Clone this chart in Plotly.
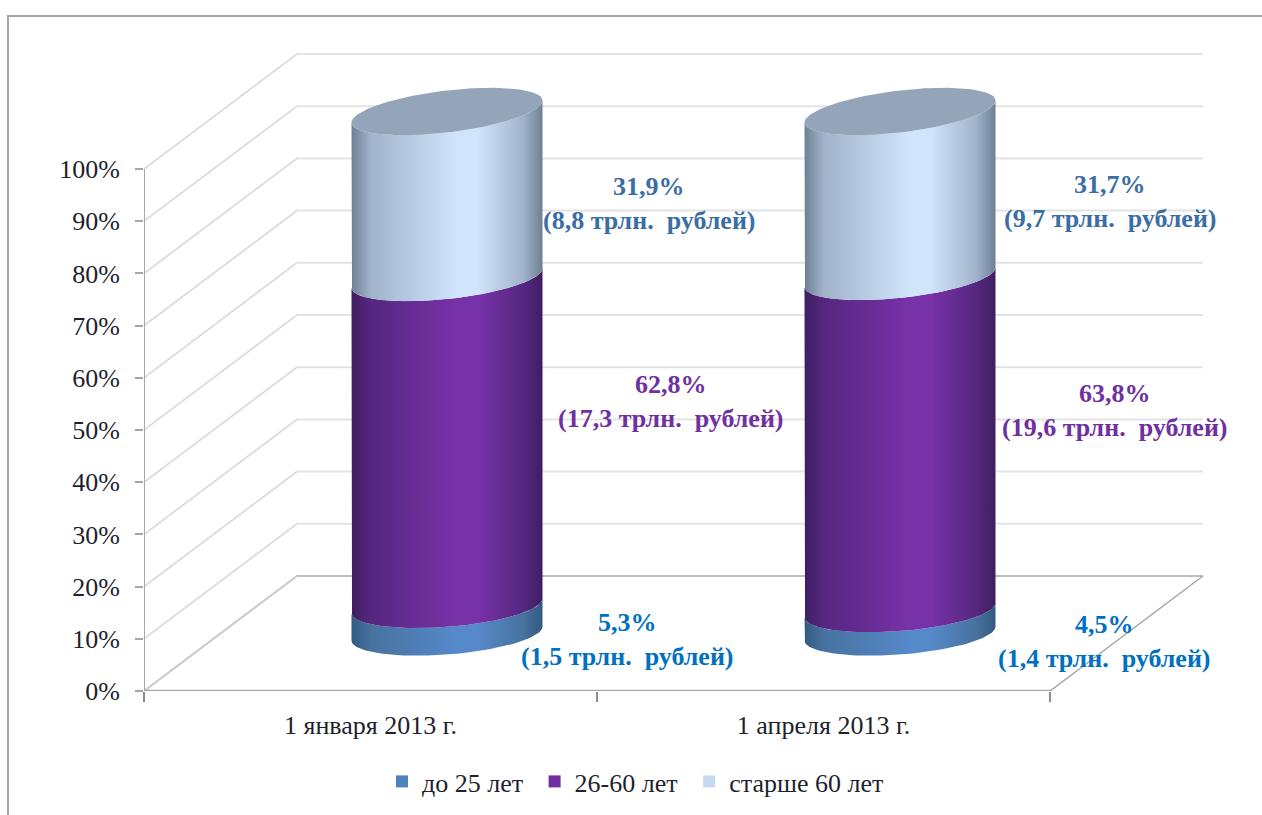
import math
import plotly.graph_objects as go

# ---- data ----
categories = ["1 января 2013 г.", "1 апреля 2013 г."]
series_names = ["до 25 лет", "26-60 лет", "старше 60 лет"]
share_young = [5.3, 4.5]
share_middle = [62.8, 63.8]
share_old = [31.9, 31.7]
trillions_young = ["1,5", "1,4"]
trillions_middle = ["17,3", "19,6"]
trillions_old = ["8,8", "9,7"]
y_ticks = [0, 10, 20, 30, 40, 50, 60, 70, 80, 90, 100]

# ---- geometry (pixels converted to axis units) ----
W, H = 1262, 815
L, R, T, B = 144, 1210, 40, 691          # plot rectangle
PX_X = 453.0                             # px per category
PX_Y = 5.22                              # px per percent
X_MAX = (R - L) / PX_X
Y_MAX = (B - T) / PX_Y
DX = 153 / PX_X                          # depth of the box
DY = 115 / PX_Y
RAD_X = 95.5 / PX_X
RAD_Y = 21 / PX_Y
TILT0 = 7 / PX_Y
TILT1 = 11 / PX_Y
FONT = "Liberation Serif"
FONT_SIZE = 26


def ellipse(cx, level, t0, t1, n=60):
    """Points on the tilted rim of a cylinder at a value level."""
    cy = level + DY / 2
    k = TILT0 + (TILT1 - TILT0) * level / 100
    xs, ys = [], []
    for i in range(n + 1):
        t = t0 + (t1 - t0) * i / n
        xs.append(cx + RAD_X * math.cos(t))
        ys.append(cy - RAD_Y * math.sin(t) + k * math.cos(t))
    return xs, ys


def scale(dark, mid, bright):
    return [[0, dark], [0.1, mid], [0.55, bright], [0.66, bright], [0.9, mid], [1, dark]]


GRADIENTS = [
    scale("#325a80", "#47729f", "#5689ca"),
    scale("#3f1e62", "#55277f", "#7732a8"),
    scale("#6d8093", "#a0b3cb", "#d0e4fc"),
]
SWATCH = ["#4f81bd", "#7030a0", "#c6d9f1"]
TOP_COLOR = "#94a5b9"
LABEL_COLORS = ["#0070c0", "#7030a0", "#3a6ea5"]

fig = go.Figure()


def line(xs, ys, color, width):
    fig.add_trace(go.Scatter(x=xs, y=ys, mode="lines", cliponaxis=False, showlegend=False,
                             hoverinfo="skip", line=dict(color=color, width=width)))


# walls
for v in y_ticks:
    line([0, DX, DX + 2], [v, v + DY, v + DY], "#bdbdbd" if v == 0 else "#e3e3e3", 2)
    line([0, DX], [v, v + DY], "#d9d9d9", 1)
line([2, 2 + DX], [0, DY], "#a6a6a6", 1.5)
line([0, 2], [0, 0], "#a6a6a6", 2.5)
line([0, 0], [0, 100], "#a6a6a6", 2)

# cylinders
series = [share_young, share_middle, share_old]
for c in range(len(categories)):
    cx = c + 0.5 + DX / 2
    base = 0
    for s, values in enumerate(series):
        top = 100 if s == 2 else base + values[c]
        xa, ya = ellipse(cx, top, 0, math.pi)
        xb, yb = ellipse(cx, base, math.pi, 0)
        fig.add_trace(go.Scatter(
            x=xa + xb + xa[:1], y=ya + yb + ya[:1], mode="lines", fill="toself",
            fillgradient=dict(type="horizontal", colorscale=GRADIENTS[s]),
            line=dict(width=0), showlegend=False, hoverinfo="skip"))
        base = top
    xt, yt = ellipse(cx, 100, 0, 2 * math.pi, 120)
    fig.add_trace(go.Scatter(x=xt, y=yt, mode="lines", fill="toself", fillcolor=TOP_COLOR,
                             line=dict(width=0), showlegend=False, hoverinfo="skip"))

# legend keys (a trailing no-break space widens the gap between entries)
for i, (name, col) in enumerate(zip(series_names, SWATCH)):
    pad = "\u00a0" if i < len(series_names) - 1 else ""
    fig.add_trace(go.Scatter(x=[None], y=[None], mode="markers", name=name + pad,
                             marker=dict(symbol="square", size=14, color=col)))

# value labels, placed relative to the middle of their segment
label_shift_x = [[180, 224, 202], [204, 215, 210]]
label_shift_y = [[20, -40, 9], [20, -33, 7]]
trillions = [trillions_young, trillions_middle, trillions_old]
annotations = []
for c in range(len(categories)):
    cx = c + 0.5 + DX / 2
    base = 0
    for s, values in enumerate(series):
        mid = base + values[c] / 2 + DY / 2
        base += values[c]
        for text, dy in ((f"{str(values[c]).replace('.', ',')}%", -17),
                         (f"({trillions[s][c]} трлн.\u00a0 рублей)", 17)):
            annotations.append(dict(
                x=cx, y=mid, xref="x", yref="y", text=f"<b>{text}</b>", showarrow=False,
                xshift=label_shift_x[c][s], yshift=-(label_shift_y[c][s] + dy),
                font=dict(family=FONT, size=FONT_SIZE, color=LABEL_COLORS[s])))

fig.update_layout(
    width=W, height=H, autosize=False,
    margin=dict(l=L, r=W - R, t=T, b=H - B, pad=0, autoexpand=False),
    paper_bgcolor="white", plot_bgcolor="rgba(0,0,0,0)",
    font=dict(family=FONT, size=FONT_SIZE, color="#1f1f2e"),
    annotations=annotations,
    showlegend=True,
    legend=dict(orientation="h", x=(382 - L) / (R - L), xanchor="left",
                y=-(758 - B) / (B - T), yanchor="top", itemsizing="constant",
                font=dict(family=FONT, size=FONT_SIZE, color="#1f1f2e"), bgcolor="rgba(0,0,0,0)",
                itemclick=False, itemdoubleclick=False),
    shapes=[dict(type="rect", xref="paper", yref="paper",
                 x0=(8 - L) / (R - L), x1=(W + 20 - L) / (R - L),
                 y0=-(H + 20 - B) / (B - T), y1=(B - 16) / (B - T),
                 line=dict(color="#a6a6a6", width=2), layer="below")],
    xaxis=dict(range=[0, X_MAX], tickmode="array", tickvals=[0.5, 1.5], ticktext=categories,
               ticks="", showgrid=False, zeroline=False, showline=False, ticklabelstandoff=16,
               minor=dict(tickmode="array", tickvals=[0, 1, 2], ticks="outside", ticklen=10,
                          tickcolor="#8c8c8c", tickwidth=1.5, showgrid=False)),
    yaxis=dict(range=[0, Y_MAX], tickmode="array", tickvals=y_ticks,
               ticktext=[f"{v}%" for v in y_ticks], ticks="outside", ticklen=8, tickwidth=1.5,
               tickcolor="#a6a6a6", showgrid=False, zeroline=False, showline=False,
               ticklabelstandoff=10),
)
fig.write_html("out.html", config={"displayModeBar": False},
               post_script="document.body.style.margin='0';")
